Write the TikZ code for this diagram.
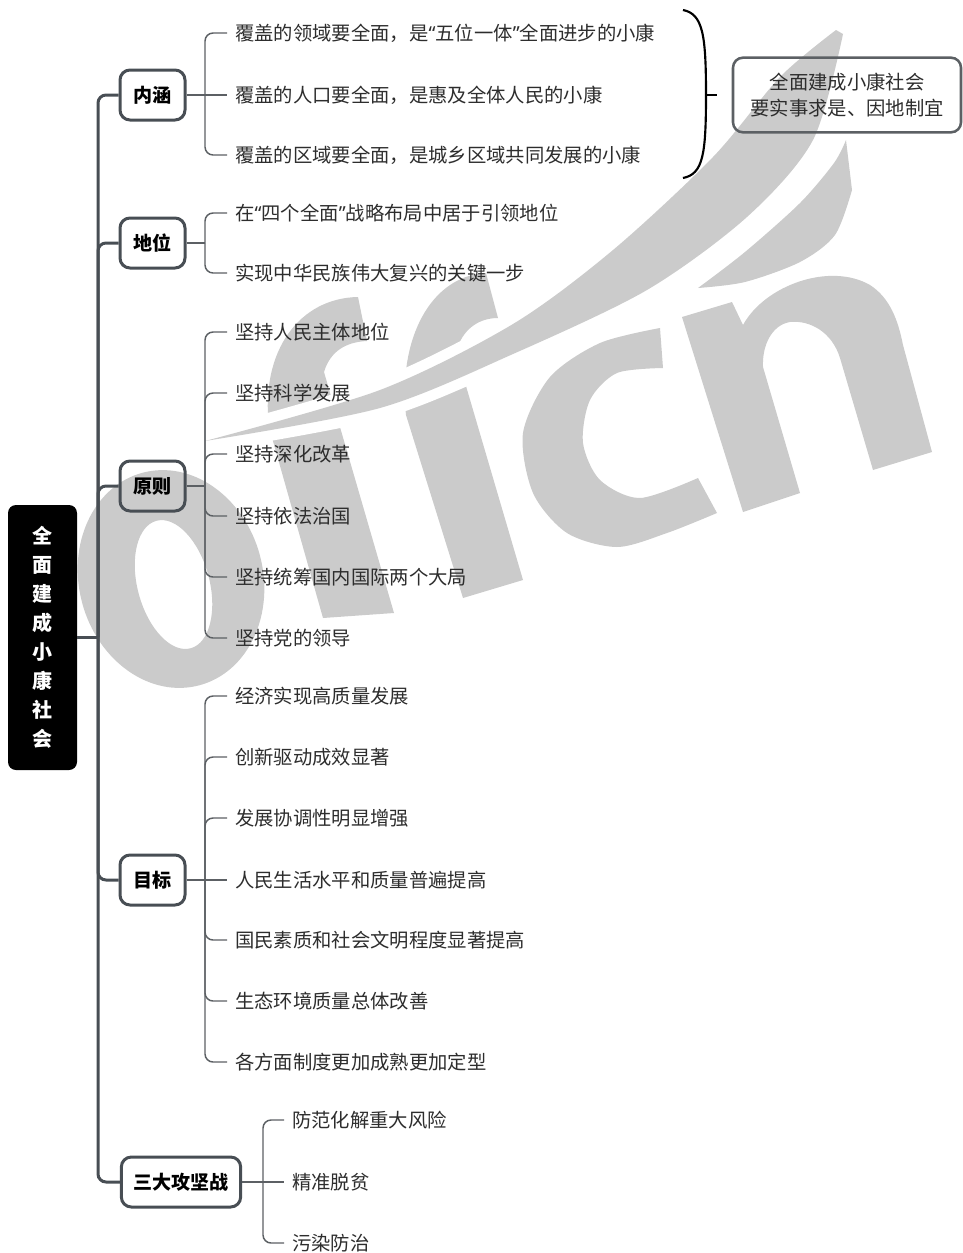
\documentclass[tikz,border=0pt]{standalone}
\usepackage{fontspec}
\setmainfont{Noto Sans CJK SC}
\newfontfamily\qfont{Noto Sans}
\newcommand\qopen{{\qfont “}}
\newcommand\qclose{{\qfont ”}}
\usetikzlibrary{calc}
\definecolor{linegray}{RGB}{72,78,84}
\definecolor{twiggray}{RGB}{92,96,100}
\definecolor{wmgray}{RGB}{203,203,203}
\definecolor{txtgray}{RGB}{45,45,45}
\tikzset{
  rootbox/.style={fill=black, rounded corners=6pt, minimum width=51.75pt, minimum height=198.75pt,
    text=white, align=center, font={\fontsize{15}{21.75}\selectfont\bfseries}},
  topicbox/.style={draw=linegray, line width=2.25pt, rounded corners=7.5pt, minimum width=48.75pt,
    minimum height=37.5pt, inner xsep=9pt, font={\fontsize{14.3}{17}\selectfont\bfseries}},
  leaf/.style={anchor=west, inner xsep=6pt, text=txtgray, font={\fontsize{14.5}{17}\selectfont}},
  notebox/.style={draw=twiggray, line width=1.9pt, rounded corners=7.5pt, minimum width=171pt,
    minimum height=56pt, align=center, text=txtgray, font={\fontsize{14.5}{19.5}\selectfont}},
  trunk/.style={draw=linegray, line width=2.25pt, rounded corners=6pt},
  twig/.style={draw=twiggray, line width=1.1pt, rounded corners=6pt},
  wm/.style={fill=wmgray},
}
\begin{document}
\begin{tikzpicture}[x=0.75pt, y=-0.75pt]
  \useasboundingbox (0,0) rectangle (963,1253);
  % Watermark
  \begin{scope}[rotate around={15:(171,579)}]
    \fill[wm, even odd rule] (171,579) ellipse [x radius=92, y radius=110]
      (172,585) ellipse [x radius=36, y radius=66];
  \end{scope}
  \fill[wm] (323,618) -- (269,427) .. controls (260,350) and (300,298) .. (358,297)
    -- (367,341) .. controls (345,342) and (330,352) .. (324,372) -- (394,613) -- cycle;
  \fill[wm] (463,598) -- (406,415) .. controls (398,340) and (430,276) .. (486,273)
    -- (498,318) .. controls (478,318) and (462,330) .. (456,352) -- (523,580) -- cycle;
  \fill[wm] plot[smooth] coordinates {(660,328) (600,343) (550,377) (523,433) (533,493) (567,533) (617,547) (667,533) (717,513)}
    -- plot[smooth] coordinates {(698,478) (640,498) (600,480) (583,443) (590,400) (617,373) (663,368)} -- cycle;
  \fill[wm] (682,317) -- (732,302) -- (743,325) .. controls (765,285) and (830,262) .. (870,285)
    .. controls (890,298) and (898,320) .. (903,345) -- (932,452) -- (873,470) -- (840,358)
    .. controls (832,332) and (810,320) .. (790,322) .. controls (772,325) and (762,345) .. (763,367)
    -- (800,493) -- (743,512) -- cycle;
  \begin{scope}
    \clip (240,250) rectangle (540,480);
    \draw[white, line width=16pt, line join=round]
      plot[smooth] coordinates {(205,441) (380,390) (513,324) (613,250) (713,157)}
      -- plot[smooth] coordinates {(747,217) (647,290) (513,354) (380,408) (205,441)};
  \end{scope}
  \fill[wm] plot[smooth] coordinates {(205,441) (380,390) (513,324) (613,250) (713,157) (780,77) (836,30)}
    -- plot[smooth] coordinates {(843,34) (813,140) (747,217) (647,290) (513,354) (380,408) (205,441)} -- cycle;
  \fill[wm] plot[smooth] coordinates {(698,288) (745,252) (800,203) (834,163) (846,140)}
    -- plot[smooth] coordinates {(852,190) (835,235) (800,262) (745,282) (698,288)} -- cycle;
  % Root and main topics
  \node[rootbox] (root) at (42.5,637.5) {全\\面\\建\\成\\小\\康\\社\\会};
  \node[topicbox] (nh) at (152.5,95) {内涵};
  \node[topicbox] (dw) at (152.5,243) {地位};
  \node[topicbox] (yz) at (152.5,486) {原则};
  \node[topicbox] (mb) at (152.5,880) {目标};
  \node[topicbox] (gj) at (181,1182) {三大攻坚战};
  \coordinate (rj) at (98,637.5);
  \draw[trunk] (root.east) -- (rj);
  \draw[trunk] (rj) |- (nh.west);
  \draw[trunk] (rj) |- (dw.west);
  \draw[trunk] (rj) |- (yz.west);
  \draw[trunk] (rj) |- (mb.west);
  \draw[trunk] (rj) |- (gj.west);
  % 内涵
  \node[leaf] (nh1) at (227,33) {覆盖的领域要全面，是\qopen 五位一体\qclose 全面进步的小康};
  \node[leaf] (nh2) at (227,95) {覆盖的人口要全面，是惠及全体人民的小康};
  \node[leaf] (nh3) at (227,155) {覆盖的区域要全面，是城乡区域共同发展的小康};
  \coordinate (nhj) at (205,95);
  \draw[twig] (nh.east) -- (nhj);
  \draw[twig] (nhj) |- (nh1.west);
  \draw[twig] (nhj) -- (nh2.west);
  \draw[twig] (nhj) |- (nh3.west);
  % 地位
  \node[leaf] (dw1) at (227,213) {在\qopen 四个全面\qclose 战略布局中居于引领地位};
  \node[leaf] (dw2) at (227,273) {实现中华民族伟大复兴的关键一步};
  \coordinate (dwj) at (205,243);
  \draw[twig] (dw.east) -- (dwj);
  \draw[twig] (dwj) |- (dw1.west);
  \draw[twig] (dwj) |- (dw2.west);
  % 原则
  \node[leaf] (yz1) at (227,332) {坚持人民主体地位};
  \node[leaf] (yz2) at (227,393) {坚持科学发展};
  \node[leaf] (yz3) at (227,454) {坚持深化改革};
  \node[leaf] (yz4) at (227,516) {坚持依法治国};
  \node[leaf] (yz5) at (227,577) {坚持统筹国内国际两个大局};
  \node[leaf] (yz6) at (227,638) {坚持党的领导};
  \coordinate (yzj) at (205,486);
  \draw[twig] (yz.east) -- (yzj);
  \draw[twig] (yzj) |- (yz1.west);
  \draw[twig] (yzj) |- (yz2.west);
  \draw[twig] (yzj) |- (yz3.west);
  \draw[twig] (yzj) |- (yz4.west);
  \draw[twig] (yzj) |- (yz5.west);
  \draw[twig] (yzj) |- (yz6.west);
  % 目标
  \node[leaf] (mb1) at (227,696) {经济实现高质量发展};
  \node[leaf] (mb2) at (227,757) {创新驱动成效显著};
  \node[leaf] (mb3) at (227,818) {发展协调性明显增强};
  \node[leaf] (mb4) at (227,880) {人民生活水平和质量普遍提高};
  \node[leaf] (mb5) at (227,940) {国民素质和社会文明程度显著提高};
  \node[leaf] (mb6) at (227,1001) {生态环境质量总体改善};
  \node[leaf] (mb7) at (227,1062) {各方面制度更加成熟更加定型};
  \coordinate (mbj) at (205,880);
  \draw[twig] (mb.east) -- (mbj);
  \draw[twig] (mbj) |- (mb1.west);
  \draw[twig] (mbj) |- (mb2.west);
  \draw[twig] (mbj) |- (mb3.west);
  \draw[twig] (mbj) -- (mb4.west);
  \draw[twig] (mbj) |- (mb5.west);
  \draw[twig] (mbj) |- (mb6.west);
  \draw[twig] (mbj) |- (mb7.west);
  % 三大攻坚战
  \node[leaf] (gj1) at (284,1120) {防范化解重大风险};
  \node[leaf] (gj2) at (284,1182) {精准脱贫};
  \node[leaf] (gj3) at (284,1243) {污染防治};
  \coordinate (gjj) at (263,1182);
  \draw[twig] (gj.east) -- (gjj);
  \draw[twig] (gjj) |- (gj1.west);
  \draw[twig] (gjj) -- (gj2.west);
  \draw[twig] (gjj) |- (gj3.west);
  % Summary brace and note
  \draw[line width=1.6pt] (683,10) .. controls (703,14) and (706,35) .. (706,95)
    .. controls (706,155) and (703,174) .. (683,178);
  \coordinate (bt) at (706,95);
  \draw[line width=1.6pt] (bt) -- ++(11,0);
  \node[notebox] (nt) at (847,95) {全面建成小康社会\\要实事求是、因地制宜};
\end{tikzpicture}
\end{document}
